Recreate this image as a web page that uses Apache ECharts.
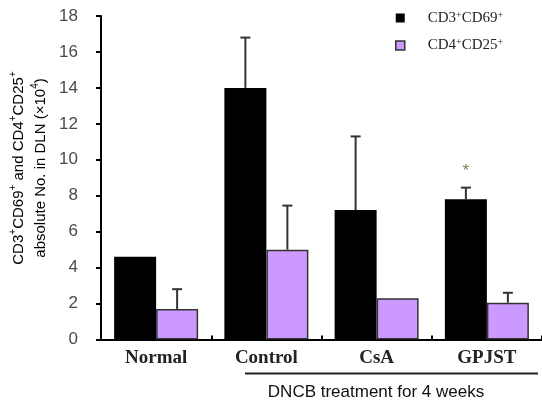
<!DOCTYPE html>
<html>
<head>
<meta charset="utf-8">
<script src="https://cdn.jsdelivr.net/npm/echarts@6/dist/echarts.min.js"></script>
<style>
  html, body { margin: 0; padding: 0; background: #fff; }
  #chart { width: 542px; height: 402px; }
</style>
</head>
<body>
<div id="chart"></div>
<script>
// Groups on the x axis
const groups = ['Normal', 'Control', 'CsA', 'GPJST'];

// Absolute cell counts in draining lymph node (x10^4)
const cd3cd69 = [4.6, 14.0, 7.2, 7.8];
const cd4cd25 = [1.7, 5.0, 2.3, 2.05];

// Upper error (SD); null where no bar is drawn
const cd3cd69Err = [null, 2.8, 4.1, 0.65];
const cd4cd25Err = [1.1, 2.45, null, 0.55];

// Group marked as significant
const starGroup = 3;

// Y axis range
const yMin = 0, yMax = 18, yStep = 2;

const BAR_W = 42;

function errData(means, errs, side) {
  const out = [];
  means.forEach((m, i) => {
    if (errs[i] != null) out.push([i, m, m + errs[i], side]);
  });
  return out;
}

const chart = echarts.init(document.getElementById('chart'), null, { renderer: 'canvas' });

const supRich = {
  n: { fontFamily: 'Liberation Serif', fontSize: 15, color: '#2a2420' },
  s: { fontFamily: 'Liberation Serif', fontSize: 10, color: '#2a2420', verticalAlign: 'top', padding: [0, 0, 6, 0] }
};

const legendText = {
  'CD3+CD69+': '{n|CD3}{s|+}{n|CD69}{s|+}',
  'CD4+CD25+': '{n|CD4}{s|+}{n|CD25}{s|+}'
};

const option = {
  animation: false,
  backgroundColor: '#ffffff',
  grid: { left: 101, right: -7, top: 16, bottom: 62.5 },
  legend: {
    orient: 'vertical',
    left: 395,
    top: 10,
    padding: 0,
    itemWidth: 9,
    itemHeight: 9,
    itemGap: 12,
    icon: 'rect',
    data: [
      { name: 'CD3+CD69+', itemStyle: { color: '#000', borderColor: '#000', borderWidth: 0 } },
      { name: 'CD4+CD25+', itemStyle: { color: '#cc99ff', borderColor: '#333', borderWidth: 1.5 } }
    ],
    formatter: name => legendText[name] || name,
    textStyle: { padding: [0, 0, 0, 18], rich: supRich }
  },
  xAxis: {
    type: 'category',
    data: groups,
    axisLine: { lineStyle: { color: '#000', width: 2 } },
    axisTick: { show: true, inside: true, length: 4, lineStyle: { color: '#000', width: 2 } },
    axisLabel: {
      fontFamily: 'Liberation Serif',
      fontWeight: 'bold',
      fontSize: 19,
      color: '#262220',
      margin: 9
    }
  },
  yAxis: {
    type: 'value',
    min: yMin,
    max: yMax,
    interval: yStep,
    splitLine: { show: false },
    axisLine: { show: true, lineStyle: { color: '#000', width: 2 } },
    axisTick: { show: true, length: 5, lineStyle: { color: '#000', width: 2 } },
    axisLabel: {
      fontFamily: 'Liberation Sans',
      fontSize: 17,
      color: '#4a4a4a',
      margin: 23
    }
  },
  series: [
    {
      name: 'CD3+CD69+',
      type: 'bar',
      barWidth: BAR_W,
      barGap: '0%',
      itemStyle: { color: '#000', borderColor: '#000', borderWidth: 0 },
      data: cd3cd69.map((v, i) => i === starGroup
        ? { value: v, label: { show: true, position: 'top', distance: 20, formatter: '*', fontSize: 17, fontFamily: 'Liberation Sans', color: '#8a7c55' } }
        : v)
    },
    {
      name: 'CD4+CD25+',
      type: 'bar',
      barWidth: BAR_W,
      barGap: '0%',
      itemStyle: { color: '#cc99ff', borderColor: '#333', borderWidth: 1.5 },
      data: cd4cd25
    },
    {
      name: 'errors',
      type: 'custom',
      z: 5,
      silent: true,
      data: errData(cd3cd69, cd3cd69Err, -1).concat(errData(cd4cd25, cd4cd25Err, 1)),
      renderItem: function (params, api) {
        const side = api.value(3);
        const base = api.coord([api.value(0), api.value(1)]);
        const top = api.coord([api.value(0), api.value(2)]);
        const x = base[0] + side * BAR_W / 2;
        const cap = 5;
        const st = { stroke: '#333', lineWidth: 2 };
        return {
          type: 'group',
          children: [
            { type: 'line', shape: { x1: x, y1: base[1], x2: x, y2: top[1] }, style: st },
            { type: 'line', shape: { x1: x - cap, y1: top[1], x2: x + cap, y2: top[1] }, style: st }
          ]
        };
      }
    }
  ],
  graphic: [
    {
      type: 'text',
      x: 30,
      y: 168,
      rotation: Math.PI / 2,
      style: {
        text: '{t|CD3}{u|+}{t|CD69}{u|+}{t| and CD4}{u|+}{t|CD25}{u|+}\n{t|absolute No. in DLN (×10}{u|4}{t|)}',
        align: 'center',
        verticalAlign: 'middle',
        rich: {
          t: { fontFamily: 'Liberation Sans', fontSize: 15, color: '#222', lineHeight: 22 },
          u: { fontFamily: 'Liberation Sans', fontSize: 10, color: '#222', lineHeight: 22, verticalAlign: 'top', padding: [0, 0, 6, 0] }
        }
      }
    },
    {
      type: 'line',
      shape: { x1: 245, y1: 373.5, x2: 538, y2: 373.5 },
      style: { stroke: '#222', lineWidth: 2 }
    },
    {
      type: 'text',
      x: 376,
      y: 392,
      style: {
        text: 'DNCB treatment for 4 weeks',
        align: 'center',
        verticalAlign: 'middle',
        fontFamily: 'Liberation Sans',
        fontSize: 17,
        fill: '#111'
      }
    }
  ]
};

chart.setOption(option);
</script>
</body>
</html>
